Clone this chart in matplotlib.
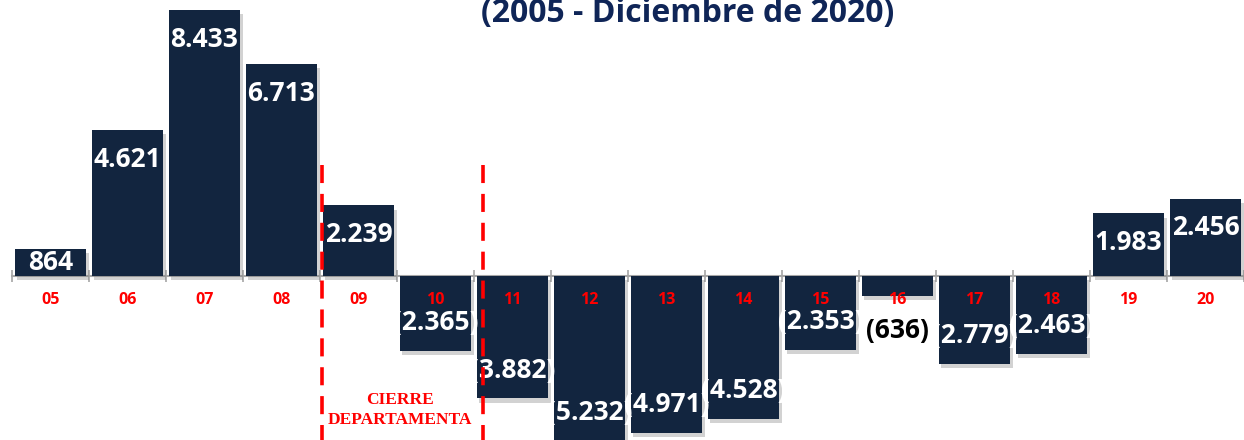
"""Bar chart: yearly net values 2005 - Dec 2020, with department closure marks."""
import matplotlib; matplotlib.use('Agg')  # noqa: E702
import matplotlib.pyplot as plt
import matplotlib.patheffects as pe
import numpy as np

years = ['05', '06', '07', '08', '09', '10', '11', '12',
         '13', '14', '15', '16', '17', '18', '19', '20']
values = [864, 4621, 8433, 6713, 2239, -2365, -3882, -5232,
          -4971, -4528, -2353, -636, -2779, -2463, 1983, 2456]
title = '(2005 - Diciembre de 2020)'
note = 'CIERRE\nDEPARTAMENTA'

NAVY = '#12253f'
RED = '#ff0000'

fig = plt.figure(figsize=(12.44, 4.4), dpi=100)
ax = fig.add_axes([12 / 1244, 0, 1232 / 1244, 1])
x = np.arange(len(years))

shadow = [pe.SimplePatchShadow(offset=(2, -3), shadow_rgbFace='#808080', alpha=0.35),
          pe.Normal()]
bars = ax.bar(x, values, width=0.93, color=NAVY, zorder=3)
for b in bars:
    b.set_path_effects(shadow)

ax.set_xlim(-0.5, len(years) - 0.5)
ax.set_ylim(-5200, 8750)

# zero axis with boundary ticks
for s in ['top', 'right', 'left']:
    ax.spines[s].set_visible(False)
ax.spines['bottom'].set_position(('data', 0))
ax.spines['bottom'].set_color('#a6a6a6')
ax.spines['bottom'].set_linewidth(1.5)
ax.spines['bottom'].set_zorder(2)
ax.set_xticks(np.arange(-0.5, len(years) + 0.5, 1))
ax.set_xticklabels([])
ax.tick_params(axis='x', direction='inout', length=8, width=1.2, colors='#a6a6a6')
ax.set_yticks([])

for xi, yr in zip(x, years):
    ax.text(xi, -750, yr, ha='center', va='center', color=RED,
            fontsize=11.5, fontweight='bold', family='Open Sans', zorder=4)

for xi, v in zip(x, values):
    txt = f'{abs(v):,}'.replace(',', '.')
    if v >= 0:
        y = v - 930 if v > 1500 else v / 2 - 20
        ax.text(xi, y, txt, ha='center', va='center', color='white',
                fontsize=19, fontweight='bold', family='Open Sans', zorder=5)
    elif v > -1000:
        ax.text(xi, v - 1100, f'({txt})', ha='center', va='center', color='black',
                fontsize=19, fontweight='bold', family='Open Sans', zorder=5)
    else:
        ax.text(xi, v + 900, f'({txt})', ha='center', va='center', color='white',
                fontsize=19, fontweight='bold', family='Open Sans', zorder=5)

for xv in [3.53, 5.62]:
    ax.plot([xv, xv], [3530, -5200], color=RED, lw=2.6, ls=(0, (5, 3)),
            zorder=6, clip_on=False)

ax.text(4.54, -4250, note, ha='center', va='center', color=RED, fontsize=12.5,
        fontweight='bold', family='Liberation Serif', linespacing=1.4, zorder=6)

fig.text(688 / 1244, 1 - 22 / 440, title, ha='center', va='baseline', color='#0f2557',
         fontsize=23, fontweight='bold', family='Open Sans')

fig.savefig('out.png', dpi=100)
